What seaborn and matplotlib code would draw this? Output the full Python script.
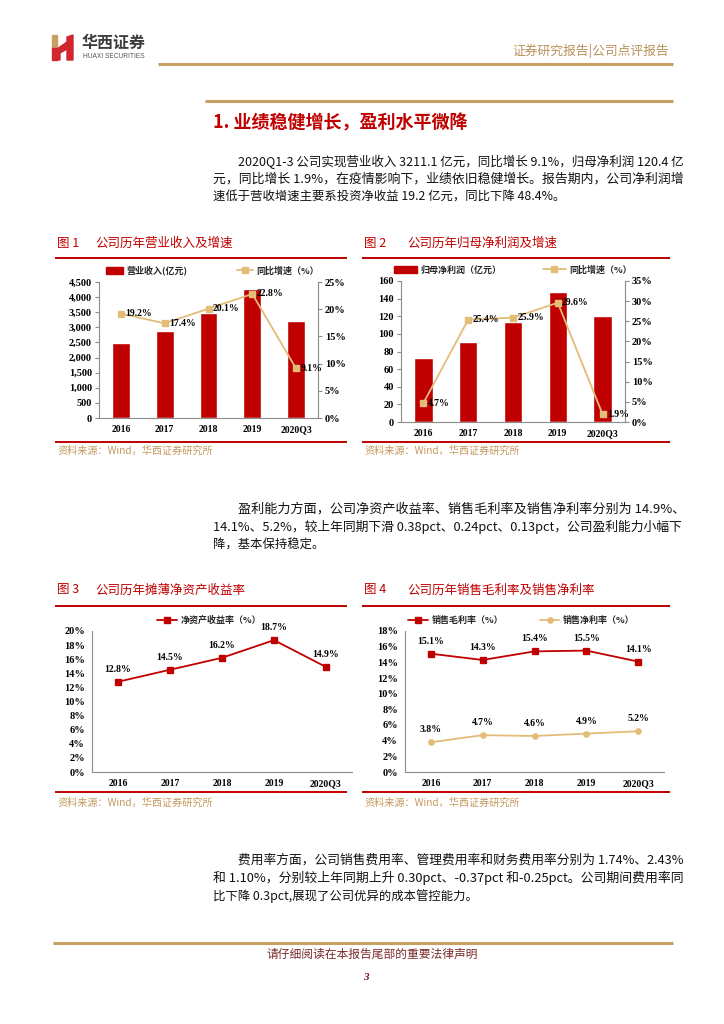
import numpy as np
import matplotlib
matplotlib.use('Agg')
import matplotlib.pyplot as plt
import seaborn as sns
from matplotlib.lines import Line2D
from matplotlib.patches import Patch, Polygon
from matplotlib.font_manager import FontProperties

sns.set_theme(style='white')
plt.rcParams['font.family'] = ['Noto Sans CJK SC', 'DejaVu Sans']
plt.rcParams['axes.unicode_minus'] = False

# 数据
years = ['2016', '2017', '2018', '2019', '2020Q3']
revenue = [2472, 2889, 3464, 4268, 3211.1]          # 营业收入(亿元)
revenue_growth = [19.2, 17.4, 20.1, 22.8, 9.1]      # 同比增速(%)
profit = [72.6, 90.4, 113.8, 147.5, 120.4]          # 归母净利润(亿元)
profit_growth = [4.7, 25.4, 25.9, 29.6, 1.9]        # 同比增速(%)
roe = [12.8, 14.5, 16.2, 18.7, 14.9]                # 摊薄净资产收益率(%)
gross_margin = [15.1, 14.3, 15.4, 15.5, 14.1]       # 销售毛利率(%)
net_margin = [3.8, 4.7, 4.6, 4.9, 5.2]              # 销售净利率(%)

RED = '#C00000'
GOLD = '#E3BC78'
LINE_GOLD = '#C9A063'
GRAY = '#8C8C8C'
SERIF = 'Liberation Serif'

W, H = 724, 1024
fig = plt.figure(figsize=(7.24, 10.24), dpi=100)
renderer = fig.canvas.get_renderer()


def fx(x):
    return x / W


def fy(y):
    return 1 - y / H


def hline(x0, x1, y, color, lw):
    fig.add_artist(Line2D([fx(x0), fx(x1)], [fy(y), fy(y)], color=color,
                          lw=lw, transform=fig.transFigure, solid_capstyle='butt'))


def txt(x, y, s, **kw):
    kw.setdefault('va', 'center')
    return fig.text(fx(x), fy(y), s, **kw)


def jtxt(x0, x1, y, s, **kw):
    # 两端对齐：按目标宽度微调字号
    t = txt(x0, y, s, **kw)
    w = t.get_window_extent(renderer).width
    t.set_fontsize(kw['fontsize'] * (x1 - x0) / w)
    return t


def axes_px(x0, y0, x1, y1):
    return fig.add_axes([fx(x0), fy(y1), (x1 - x0) / W, (y1 - y0) / H])


tick_kw = dict(fontfamily=SERIF, fontweight='bold', fontsize=7, color='black')
ytick_kw = dict(tick_kw, fontsize=7.5)
leg_prop = FontProperties(family='Noto Sans CJK SC', weight='bold', size=6.5)


def style_axes(ax, yticks, ylabels):
    for s in ['top', 'right']:
        ax.spines[s].set_visible(False)
    for s in ['left', 'bottom']:
        ax.spines[s].set_color(GRAY)
        ax.spines[s].set_linewidth(0.8)
    ax.set_xlim(-0.5, 4.5)
    ax.set_xticks(range(len(years)), labels=years, **tick_kw)
    ax.set_xticks(np.arange(-0.5, 5, 1), minor=True)
    ax.tick_params(axis='x', which='major', length=0, pad=5)
    ax.tick_params(axis='x', which='minor', length=3, color=GRAY, direction='out')
    ax.set_yticks(yticks, labels=ylabels, **ytick_kw)
    ax.tick_params(axis='y', length=3, color=GRAY, direction='out', pad=2, width=0.8)
    ax.set_xlabel('')
    ax.set_ylabel('')
    ax.grid(False)


def style_twin(ax, yticks, ylabels):
    ax.set_yticks(yticks, labels=ylabels, **ytick_kw)
    ax.tick_params(axis='y', length=3, color=GRAY, direction='out', pad=2, width=0.8)
    ax.set_ylabel('')
    for s in ['top', 'left', 'bottom']:
        ax.spines[s].set_visible(False)
    ax.spines['right'].set_color(GRAY)
    ax.spines['right'].set_linewidth(0.8)
    ax.set_xlim(-0.5, 4.5)


# ---------------- 页眉 ----------------
fig.add_artist(Polygon([[fx(52), fy(35)], [fx(57), fy(35)], [fx(57), fy(48)], [fx(52), fy(48)]],
                       closed=True, color='#C8A064', transform=fig.transFigure))
fig.add_artist(Polygon([[fx(52), fy(48)], [fx(57), fy(48)], [fx(57), fy(60)], [fx(52), fy(60)]],
                       closed=True, color='#D0262D', transform=fig.transFigure))
fig.add_artist(Polygon([[fx(57), fy(49)], [fx(67), fy(42)], [fx(67), fy(49)], [fx(60), fy(53)],
                        [fx(60), fy(60)], [fx(57), fy(60)]],
                       closed=True, color='#D0262D', transform=fig.transFigure))
fig.add_artist(Polygon([[fx(67), fy(37)], [fx(73), fy(35)], [fx(73), fy(60)], [fx(67), fy(60)]],
                       closed=True, color='#D0262D', transform=fig.transFigure))
txt(82, 43, '华西证券', fontsize=11.5, fontweight='bold', color='#3C3C3C')
txt(83, 56, 'HUAXI SECURITIES', fontsize=4.8, color='#555555', family=['Liberation Sans'])
jtxt(512, 669, 51, '证券研究报告|公司点评报告', fontsize=9, color='#B89258')
hline(158, 673, 64, LINE_GOLD, 2.2)
hline(205, 673, 101, LINE_GOLD, 2.2)

# ---------------- 正文 ----------------
jtxt(213, 468, 123, '1. 业绩稳健增长，盈利水平微降', fontsize=12.8, fontweight='bold', color=RED)
body = dict(fontsize=8.9, color='#111111')
R = 684
jtxt(238, R, 162, '2020Q1-3 公司实现营业收入 3211.1 亿元，同比增长 9.1%，归母净利润 120.4 亿', **body)
jtxt(213, R, 179, '元，同比增长 1.9%，在疫情影响下，业绩依旧稳健增长。报告期内，公司净利润增', **body)
txt(213, 196, '速低于营收增速主要系投资净收益 19.2 亿元，同比下降 48.4%。', **body)

jtxt(238, R, 509, '盈利能力方面，公司净资产收益率、销售毛利率及销售净利率分别为 14.9%、', **body)
jtxt(213, R, 527, '14.1%、5.2%，较上年同期下滑 0.38pct、0.24pct、0.13pct，公司盈利能力小幅下', **body)
txt(213, 545, '降，基本保持稳定。', **body)

jtxt(238, R, 860, '费用率方面，公司销售费用率、管理费用率和财务费用率分别为 1.74%、2.43%', **body)
jtxt(213, R, 878, '和 1.10%，分别较上年同期上升 0.30pct、-0.37pct 和-0.25pct。公司期间费用率同', **body)
txt(213, 896, '比下降 0.3pct,展现了公司优异的成本管控能力。', **body)

# ---------------- 图表标题与来源 ----------------
title_kw = dict(fontsize=9, color=RED)
src_kw = dict(fontsize=7.3, color='#C39A5C')
for (x0, x1, tx, num, title, ty, ly0, ly1, sy) in [
    (55, 347, 95, '图 1', '公司历年营业收入及增速', 243, 258, 442, 451),
    (362, 670, 407, '图 2', '公司历年归母净利润及增速', 243, 258, 442, 451),
    (55, 347, 95, '图 3', '公司历年摊薄净资产收益率', 590, 606, 792, 803),
    (362, 670, 407, '图 4', '公司历年销售毛利率及销售净利率', 590, 606, 792, 803),
]:
    txt(x0 + 2, ty, num, **title_kw)
    txt(tx, ty, title, **title_kw)
    hline(x0, x1, ly0, RED, 1.4)
    hline(x0, x1, ly1, RED, 1.4)
    txt(x0 + 2, sy, '资料来源：Wind，华西证券研究所', **src_kw)

# ---------------- 图1 ----------------
ax1 = axes_px(99, 282, 318, 418)
sns.barplot(x=years, y=revenue, color=RED, saturation=1, width=0.41, ax=ax1)
ax1.set_ylim(0, 4500)
style_axes(ax1, np.arange(0, 4501, 500), [f'{v:,}' for v in range(0, 4501, 500)])
ax1b = ax1.twinx()
sns.pointplot(x=years, y=revenue_growth, ax=ax1b, color=GOLD, markers='s',
              markersize=3.8, linewidth=1.3)
ax1b.set_ylim(0, 25)
style_twin(ax1b, np.arange(0, 26, 5), [f'{v}%' for v in range(0, 26, 5)])
for i, v in enumerate(revenue_growth):
    ax1b.annotate(f'{v}%', (i, v), xytext=(3, 0), textcoords='offset points',
                  ha='left', va='center', **tick_kw)
ax1.legend([Patch(color=RED), Line2D([], [], color=GOLD, marker='s', markersize=3.8, lw=1.3)],
           ['营业收入(亿元)', '同比增速（%）'], loc='lower center', bbox_to_anchor=(0.52, 1.0),
           ncol=2, frameon=False, prop=leg_prop, handlelength=1.8, handleheight=0.9,
           columnspacing=5.5, borderpad=0.2, handletextpad=0.4)

# ---------------- 图2 ----------------
ax2 = axes_px(401, 281, 625, 422)
sns.barplot(x=years, y=profit, color=RED, saturation=1, width=0.41, ax=ax2)
ax2.set_ylim(0, 160)
style_axes(ax2, np.arange(0, 161, 20), [str(v) for v in range(0, 161, 20)])
ax2b = ax2.twinx()
sns.pointplot(x=years, y=profit_growth, ax=ax2b, color=GOLD, markers='s',
              markersize=3.8, linewidth=1.3)
ax2b.set_ylim(0, 35)
style_twin(ax2b, np.arange(0, 36, 5), [f'{v}%' for v in range(0, 36, 5)])
for i, v in enumerate(profit_growth):
    ax2b.annotate(f'{v}%', (i, v), xytext=(3, 0), textcoords='offset points',
                  ha='left', va='center', **tick_kw)
ax2.legend([Patch(color=RED), Line2D([], [], color=GOLD, marker='s', markersize=3.8, lw=1.3)],
           ['归母净利润（亿元）', '同比增速（%）'], loc='lower center', bbox_to_anchor=(0.5, 1.0),
           ncol=2, frameon=False, prop=leg_prop, handlelength=2.6, handleheight=0.9,
           columnspacing=4.5, borderpad=0.2, handletextpad=0.4)

# ---------------- 图3 ----------------
ax3 = axes_px(92, 631, 352, 772)
sns.pointplot(x=years, y=roe, ax=ax3, color=RED, markers='s', markersize=3.8, linewidth=1.3)
ax3.set_ylim(0, 20)
style_axes(ax3, np.arange(0, 21, 2), [f'{v}%' for v in range(0, 21, 2)])
for i, v in enumerate(roe):
    ax3.annotate(f'{v}%', (i, v), xytext=(0, 9), textcoords='offset points',
                 ha='center', va='center', **tick_kw)
ax3.legend([Line2D([], [], color=RED, marker='s', markersize=3.8, lw=1.3)],
           ['净资产收益率（%）'], loc='lower center', bbox_to_anchor=(0.45, 1.0),
           frameon=False, prop=leg_prop, handlelength=2.2, borderpad=0.2, handletextpad=0.4)

# ---------------- 图4 ----------------
ax4 = axes_px(405, 631, 664, 772)
sns.pointplot(x=years, y=gross_margin, ax=ax4, color=RED, markers='s', markersize=3.8, linewidth=1.3)
sns.pointplot(x=years, y=net_margin, ax=ax4, color=GOLD, markers='o', markersize=3.8, linewidth=1.3)
ax4.set_ylim(0, 18)
style_axes(ax4, np.arange(0, 19, 2), [f'{v}%' for v in range(0, 19, 2)])
for series in (gross_margin, net_margin):
    for i, v in enumerate(series):
        ax4.annotate(f'{v}%', (i, v), xytext=(0, 9), textcoords='offset points',
                     ha='center', va='center', **tick_kw)
ax4.legend([Line2D([], [], color=RED, marker='s', markersize=3.8, lw=1.3),
            Line2D([], [], color=GOLD, marker='o', markersize=3.8, lw=1.3)],
           ['销售毛利率（%）', '销售净利率（%）'], loc='lower center', bbox_to_anchor=(0.45, 1.0),
           ncol=2, frameon=False, prop=leg_prop, handlelength=2.2, columnspacing=4,
           borderpad=0.2, handletextpad=0.4)

# ---------------- 页脚 ----------------
hline(53, 673, 943, LINE_GOLD, 2.2)
txt(372, 954, '请仔细阅读在本报告尾部的重要法律声明', fontsize=8.5, color='#7A2A2A', ha='center')
txt(366, 978, '3', fontsize=8, color='#7A1A1A', ha='center', family=[SERIF],
    fontweight='bold', style='italic')

fig.savefig('out.png', dpi=100, facecolor='white')
